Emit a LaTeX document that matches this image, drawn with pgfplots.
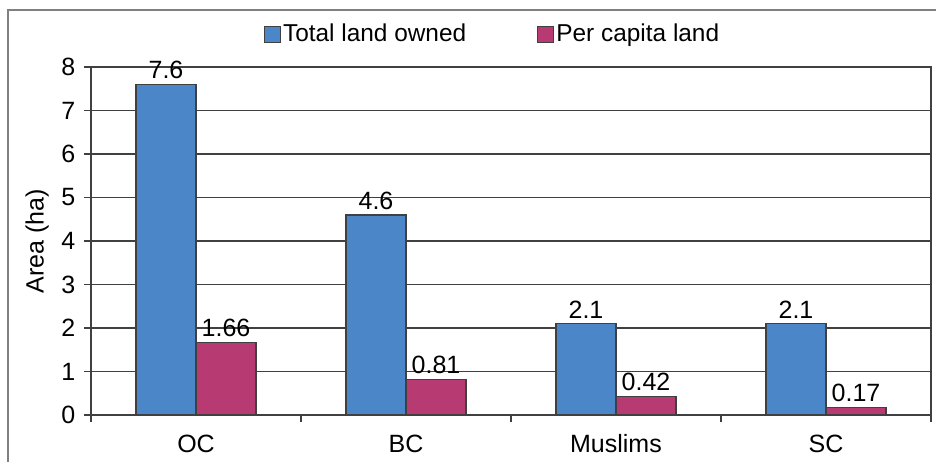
\documentclass[border=0pt]{standalone}
\usepackage{pgfplots}
\pgfplotsset{compat=1.18}
\usepackage{fontspec}
\setmainfont{Liberation Sans}
\definecolor{barblue}{HTML}{4A86C8}
\definecolor{barpink}{HTML}{B83A72}
\definecolor{axisgray}{HTML}{404040}
\definecolor{framegray}{HTML}{808080}

\begin{document}
\fontsize{12.5}{15}\selectfont
\begin{tikzpicture}
  \begin{axis}[
    scale only axis,
    width=420pt, height=174pt,
    ymin=0, ymax=8,
    ytick={0,1,...,8},
    xmin=-0.5, xmax=3.5,
    xtick={0,1,2,3},
    xticklabels={OC, BC, Muslims, SC},
    minor xtick={-0.5,0.5,1.5,2.5,3.5},
    xtick pos=bottom, ytick pos=left,
    x tick style={draw=none},
    minor x tick style={draw=axisgray, line width=0.8pt},
    minor tick length=3.5pt,
    tick align=outside,
    major tick length=3.5pt,
    y tick style={draw=axisgray, line width=0.8pt},
    ymajorgrids=true,
    grid style={draw=axisgray, line width=0.8pt},
    axis line style={draw=axisgray, line width=0.8pt},
    ylabel={Area (ha)},
    ylabel style={at={(axis description cs:-0.064,0.5)}, anchor=center},
    xticklabel style={yshift=-2pt},
    ybar=0pt,
    bar width=30pt,
    /pgf/number format/assume math mode=true,
    nodes near coords,
    every node near coord/.append style={font=\fontsize{12.5}{15}\selectfont, inner sep=2.5pt},
    legend columns=2,
    legend style={draw=none, fill=none,
      at={(axis description cs:0.478,1.093)}, anchor=center,
      font=\fontsize{12.2}{15}\selectfont,
      /tikz/every even column/.append style={column sep=34.5pt},
      nodes={inner sep=1pt}},
    legend image code/.code={\draw[#1] (0pt,-4pt) rectangle (8pt,4pt);},
    ]
    \addplot[fill=barblue, draw=axisgray, line width=0.6pt] coordinates {
      (0,7.6) (1,4.6) (2,2.1) (3,2.1)
    };
    \addplot[fill=barpink, draw=axisgray, line width=0.6pt] coordinates {
      (0,1.66) (1,0.81) (2,0.42) (3,0.17)
    };
    \legend{Total land owned, Per capita land}
  \end{axis}
  % outer frame (cropped at right and bottom)
  \draw[framegray, line width=0.7pt] (-41.5pt,-23.5pt) -- (-41.5pt,202.5pt) -- (422.5pt,202.5pt);
  \pgfresetboundingbox
  \useasboundingbox (-45.5pt,-23.5pt) rectangle (422.5pt,207.5pt);
\end{tikzpicture}
\end{document}
